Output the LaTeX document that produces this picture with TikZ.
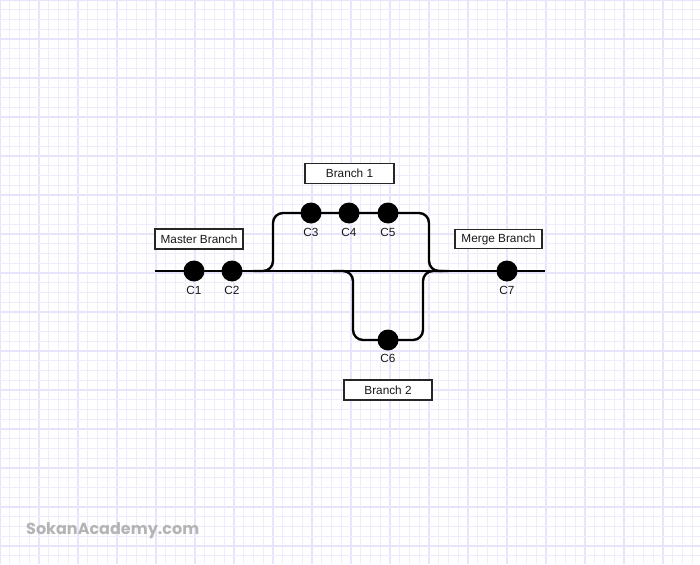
\documentclass[tikz,border=0pt]{standalone}
\usepackage{fontspec}
\setmainfont{Liberation Sans}
\newfontfamily\wmfont{Poppins}
\definecolor{gridminor}{RGB}{239,237,253}
\definecolor{gridmajor}{RGB}{231,228,251}
\definecolor{wmgray}{RGB}{180,180,180}
\definecolor{txt}{RGB}{25,25,25}
\tikzset{
  branchline/.style={line width=2.4pt, black, rounded corners=10pt},
  commit/.style={circle, fill=black, minimum size=21pt, inner sep=0pt},
  clabel/.style={font=\fontsize{11.8}{13}\selectfont, text=txt, inner sep=0pt},
  tagbox/.style={draw=black!85, line width=1.3pt, fill=white, inner sep=0pt,
     font=\fontsize{11.8}{13}\selectfont, text=txt},
}
\begin{document}
\begin{tikzpicture}[x=1pt, y=-1pt]
\useasboundingbox (0,0) rectangle (700,564);
\fill[white] (0,0) rectangle (700,564);
% grid
\foreach \i in {0,...,72} {
  \pgfmathsetmacro{\xx}{\i*9.75}
  \pgfmathtruncatemacro{\mm}{mod(\i,4)}
  \ifnum\mm=0
    \draw[gridmajor, line width=1.1pt] (\xx,0) -- (\xx,564);
  \else
    \draw[gridminor, line width=1pt] (\xx,0) -- (\xx,564);
  \fi
}
\foreach \j in {0,...,58} {
  \pgfmathsetmacro{\yy}{\j*9.75}
  \pgfmathtruncatemacro{\mm}{mod(\j,4)}
  \ifnum\mm=0
    \draw[gridmajor, line width=1.1pt] (0,\yy) -- (700,\yy);
  \else
    \draw[gridminor, line width=1pt] (0,\yy) -- (700,\yy);
  \fi
}
% key coordinates
\coordinate (mstart) at (155,271);
\coordinate (mend) at (545,271);
\coordinate (bAin) at (253,271);
\coordinate (bAl) at (273,271);
\coordinate (bAtl) at (273,213);
\coordinate (bAtr) at (429,213);
\coordinate (bAr) at (429,271);
\coordinate (bAout) at (449,271);
\coordinate (bBin) at (333,271);
\coordinate (bBl) at (353,271);
\coordinate (bBbl) at (353,340);
\coordinate (bBbr) at (423,340);
\coordinate (bBr) at (423,271);
\coordinate (bBout) at (443,271);
% lines
\draw[branchline] (mstart) -- (mend);
\draw[branchline] (bAin) -- (bAl) -- (bAtl) -- (bAtr) -- (bAr) -- (bAout);
\draw[branchline] (bBin) -- (bBl) -- (bBbl) -- (bBbr) -- (bBr) -- (bBout);
% commits
\node[commit] (c1) at (194,271) {};
\node[commit] (c2) at (232,271) {};
\node[commit] (c3) at (311,213) {};
\node[commit] (c4) at (349,213) {};
\node[commit] (c5) at (388,213) {};
\node[commit] (c6) at (388,340) {};
\node[commit] (c7) at (507,271) {};
\node[clabel] (l1) at (194,290) {C1};
\node[clabel] (l2) at (232,290) {C2};
\node[clabel] (l3) at (311,232) {C3};
\node[clabel] (l4) at (349,232) {C4};
\node[clabel] (l5) at (388,232) {C5};
\node[clabel] (l6) at (388,358) {C6};
\node[clabel] (l7) at (507,290) {C7};
% tags
\node[tagbox, minimum width=88pt, minimum height=20pt] (master) at (199,239) {Master Branch};
\node[tagbox, minimum width=89pt, minimum height=20.5pt] (br1) at (349.5,173.5) {Branch 1};
\node[tagbox, minimum width=87pt, minimum height=18.5pt] (merge) at (498.5,239) {Merge Branch};
\node[tagbox, minimum width=88pt, minimum height=20pt] (br2) at (388,390) {Branch 2};
% watermark
\node[anchor=base west, inner sep=0pt, text=wmgray, font=\wmfont\bfseries\fontsize{16}{18}\selectfont] (wm) at (26,534) {SokanAcademy.com};
\end{tikzpicture}
\end{document}
